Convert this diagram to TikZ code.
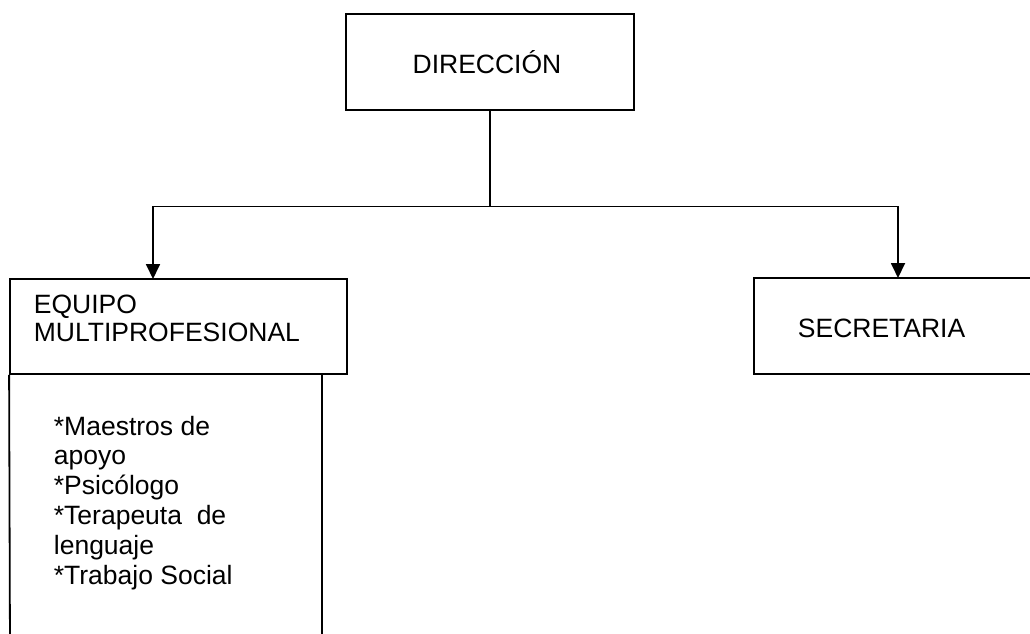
\documentclass[tikz,border=0pt]{standalone}
\usepackage{fontspec}
\setmainfont{Liberation Sans}
\usetikzlibrary{arrows.meta}
\begin{document}
\begin{tikzpicture}[x=1pt,y=-1pt,
  line width=1.8pt,
  boxst/.style={draw, line width=1.8pt, inner sep=0pt, rectangle},
  txt/.style={inner sep=0pt, font=\fontsize{26.5}{27.7}\selectfont, align=left},
  listtxt/.style={inner sep=0pt, font=\fontsize{26.5}{29.8}\selectfont, align=left},
  conn/.style={line width=1.8pt, -{Triangle[width=14pt,length=15pt]}}]
\clip (0,0) rectangle (1030,633);
% boxes
\node[boxst, minimum width=288pt, minimum height=96pt] (dir) at (490,62) {};
\node[txt, anchor=base] (dirt) at (487,73) {DIRECCIÓN};
\node[boxst, minimum width=337pt, minimum height=95pt] (eq) at (178.5,326.5) {};
\node[txt, anchor=base west] (eqt) at (33,341.5) {EQUIPO\\MULTIPROFESIONAL};
\node[boxst, minimum width=346pt, minimum height=96pt] (sec) at (927,326) {};
\node[txt, anchor=base west] (sect) at (797,337) {SECRETARIA};
% lower open box
\coordinate (lbl) at (10,650);
\coordinate (lrt) at (322,374);
\coordinate (lrb) at (322,650);
\draw (eq.south west) -- (lbl);
\draw (lrt) -- (lrb);
\node[listtxt, anchor=base west] (list) at (53,584) {*Maestros de\\apoyo\\*Psicólogo\\*Terapeuta\ \ de\\lenguaje\\*Trabajo Social};
% connectors
\coordinate (j) at (490,206.5);
\coordinate (eqin) at (153,279);
\coordinate (secin) at (898,278);
\draw (dir.south) -- (j);
\draw[conn] (j) -| (eqin);
\draw[conn] (j) -| (secin);
\end{tikzpicture}
\end{document}
